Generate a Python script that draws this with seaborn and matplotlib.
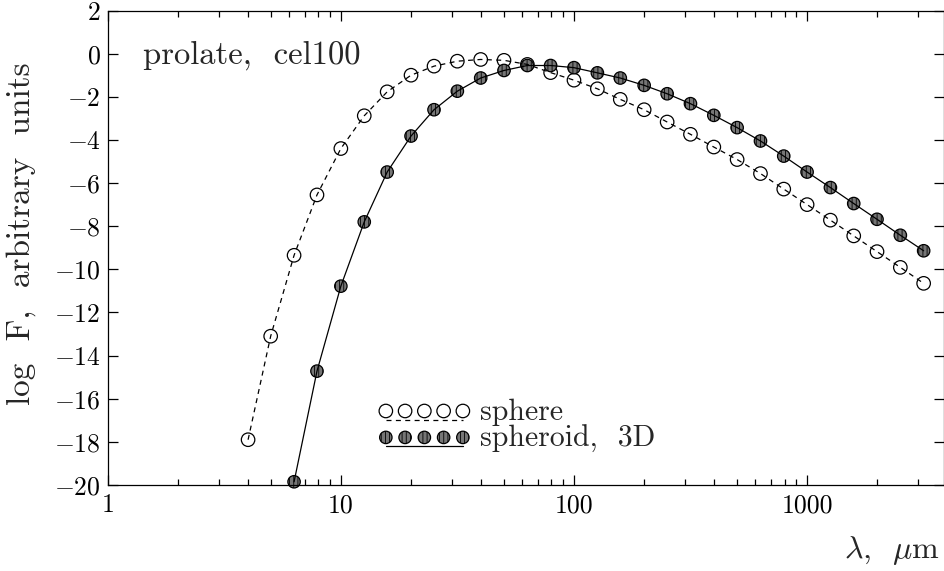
import numpy as np
import pandas as pd
import matplotlib
matplotlib.use("Agg")
import matplotlib.pyplot as plt
import seaborn as sns
from matplotlib.lines import Line2D
from matplotlib.legend_handler import HandlerLine2D
from matplotlib.ticker import FixedLocator, LogLocator, NullFormatter, FuncFormatter

# ---------------- data ----------------
sphere_lam = [4.0, 5.0, 6.3, 7.9, 10.0, 12.6, 15.8, 20.0, 25.1, 31.6, 39.8, 50.1,
              63.1, 79.4, 100, 126, 158, 200, 251, 316, 398, 501, 631, 794,
              1000, 1259, 1585, 1995, 2512, 3162]
sphere_logF = [-17.9, -13.1, -9.35, -6.55, -4.4, -2.88, -1.77, -1.0, -0.58, -0.35,
               -0.27, -0.31, -0.5, -0.88, -1.23, -1.63, -2.12, -2.6, -3.17, -3.74,
               -4.33, -4.91, -5.56, -6.28, -7.0, -7.72, -8.45, -9.18, -9.91, -10.65]

spheroid_lam = [6.3, 7.9, 10.0, 12.6, 15.8, 20.0, 25.1, 31.6, 39.8, 50.1,
                63.1, 79.4, 100, 126, 158, 200, 251, 316, 398, 501, 631, 794,
                1000, 1259, 1585, 1995, 2512, 3162]
spheroid_logF = [-19.85, -14.72, -10.78, -7.8, -5.49, -3.82, -2.6, -1.74, -1.13, -0.78,
                 -0.55, -0.55, -0.65, -0.89, -1.13, -1.47, -1.86, -2.32, -2.86, -3.43,
                 -4.05, -4.75, -5.49, -6.21, -6.95, -7.68, -8.42, -9.14]

series_labels = ["sphere", "spheroid,  3D"]
x_major_ticks = [1, 10, 100, 1000]
x_tick_labels = ["1", "10", "100", "1000"]
y_ticks = [-20, -18, -16, -14, -12, -10, -8, -6, -4, -2, 0, 2]
annotation = "prolate,  cel100"

df_sphere = pd.DataFrame({"lam": sphere_lam, "logF": sphere_logF})
df_spheroid = pd.DataFrame({"lam": spheroid_lam, "logF": spheroid_logF})

# ---------------- style ----------------
sns.set_style("ticks")
plt.rcParams.update({
    "font.family": "serif",
    "font.serif": ["cmr10", "DejaVu Serif"],
    "mathtext.fontset": "cm",
    "axes.formatter.use_mathtext": True,
    "axes.linewidth": 0.9,
    "axes.edgecolor": "black",
    "hatch.linewidth": 0.6,
    "hatch.color": "black",
})

fig = plt.figure(figsize=(9.45, 5.71), dpi=100)
ax = fig.add_axes([0.1140, 0.1506, 0.8845, 0.8310])
ax.set_xscale("log")

# markers first (below the lines, lines show through)
sns.scatterplot(data=df_sphere, x="lam", y="logF", ax=ax, marker="o", s=94,
                facecolor="none", edgecolor="black", linewidth=0.9,
                clip_on=False, zorder=2)
sns.scatterplot(data=df_spheroid, x="lam", y="logF", ax=ax, marker="o", s=80,
                facecolor="#767676", edgecolor="black", linewidth=0.9,
                hatch="||||", clip_on=False, zorder=2)
sph_coll, sphd_coll = ax.collections[0], ax.collections[1]

sns.lineplot(data=df_sphere, x="lam", y="logF", ax=ax, color="black", lw=0.9,
             linestyle=(0, (4, 3.5)), errorbar=None, sort=False, zorder=3)
sns.lineplot(data=df_spheroid, x="lam", y="logF", ax=ax, color="black", lw=0.9,
             errorbar=None, sort=False, zorder=3)

ax.set_xlim(1, 3850)
ax.set_ylim(-20, 2)

ax.xaxis.set_major_locator(FixedLocator(x_major_ticks))
ax.xaxis.set_major_formatter(FuncFormatter(lambda v, p: x_tick_labels[x_major_ticks.index(int(round(v)))]
                                           if int(round(v)) in x_major_ticks else ""))
ax.xaxis.set_minor_locator(LogLocator(base=10, subs=np.arange(2, 10)))
ax.xaxis.set_minor_formatter(NullFormatter())
ax.yaxis.set_major_locator(FixedLocator(y_ticks))
ax.yaxis.set_major_formatter(FuncFormatter(lambda v, p: r"$%d$" % int(round(v))))

ax.tick_params(which="both", direction="in", top=True, right=True, width=0.9, colors="black")
ax.tick_params(which="major", length=7.5)
ax.tick_params(which="minor", length=4.5)
ax.tick_params(axis="y", which="major", pad=5, labelsize=18.5)
ax.tick_params(axis="x", which="major", pad=6, labelsize=18.5)

ax.set_ylabel("log  F,  arbitrary  units", fontsize=24)
ax.yaxis.set_label_coords(-0.0858, 0.529)
ax.set_xlabel(r"$\lambda$,  $\mu$m", fontsize=23)
ax.xaxis.label.set_horizontalalignment("right")
ax.xaxis.set_label_coords(0.9964, -0.103)

ax.text(0.042, 0.906, annotation, transform=ax.transAxes, fontsize=23.5,
        ha="left", va="center")


class ShiftedLine(HandlerLine2D):
    def __init__(self, dy, **kw):
        super().__init__(**kw)
        self.dy = dy

    def create_artists(self, legend, orig_handle, xdescent, ydescent, width, height, fontsize, trans):
        arts = super().create_artists(legend, orig_handle, xdescent, ydescent, width, height, fontsize, trans)
        for a in arts:
            a.set_ydata(np.asarray(a.get_ydata(), dtype=float) + self.dy * fontsize)
        return arts


dash_proxy = Line2D([], [], color="black", lw=0.9, linestyle=(0, (4, 3.5)))
solid_proxy = Line2D([], [], color="black", lw=0.9)
leg = ax.legend([(sph_coll, dash_proxy), (sphd_coll, solid_proxy)], series_labels,
                handler_map={dash_proxy: ShiftedLine(-0.32), solid_proxy: ShiftedLine(-0.32)},
                loc="center left", bbox_to_anchor=(0.322, 0.1243), frameon=False,
                fontsize=21.5, scatterpoints=5, numpoints=5, scatteryoffsets=[0.5],
                handlelength=3.18, handletextpad=0.27, labelspacing=-0.05,
                borderpad=0.0, borderaxespad=0.0, handleheight=0.6)

fig.savefig("out.png", dpi=100, facecolor="white")
